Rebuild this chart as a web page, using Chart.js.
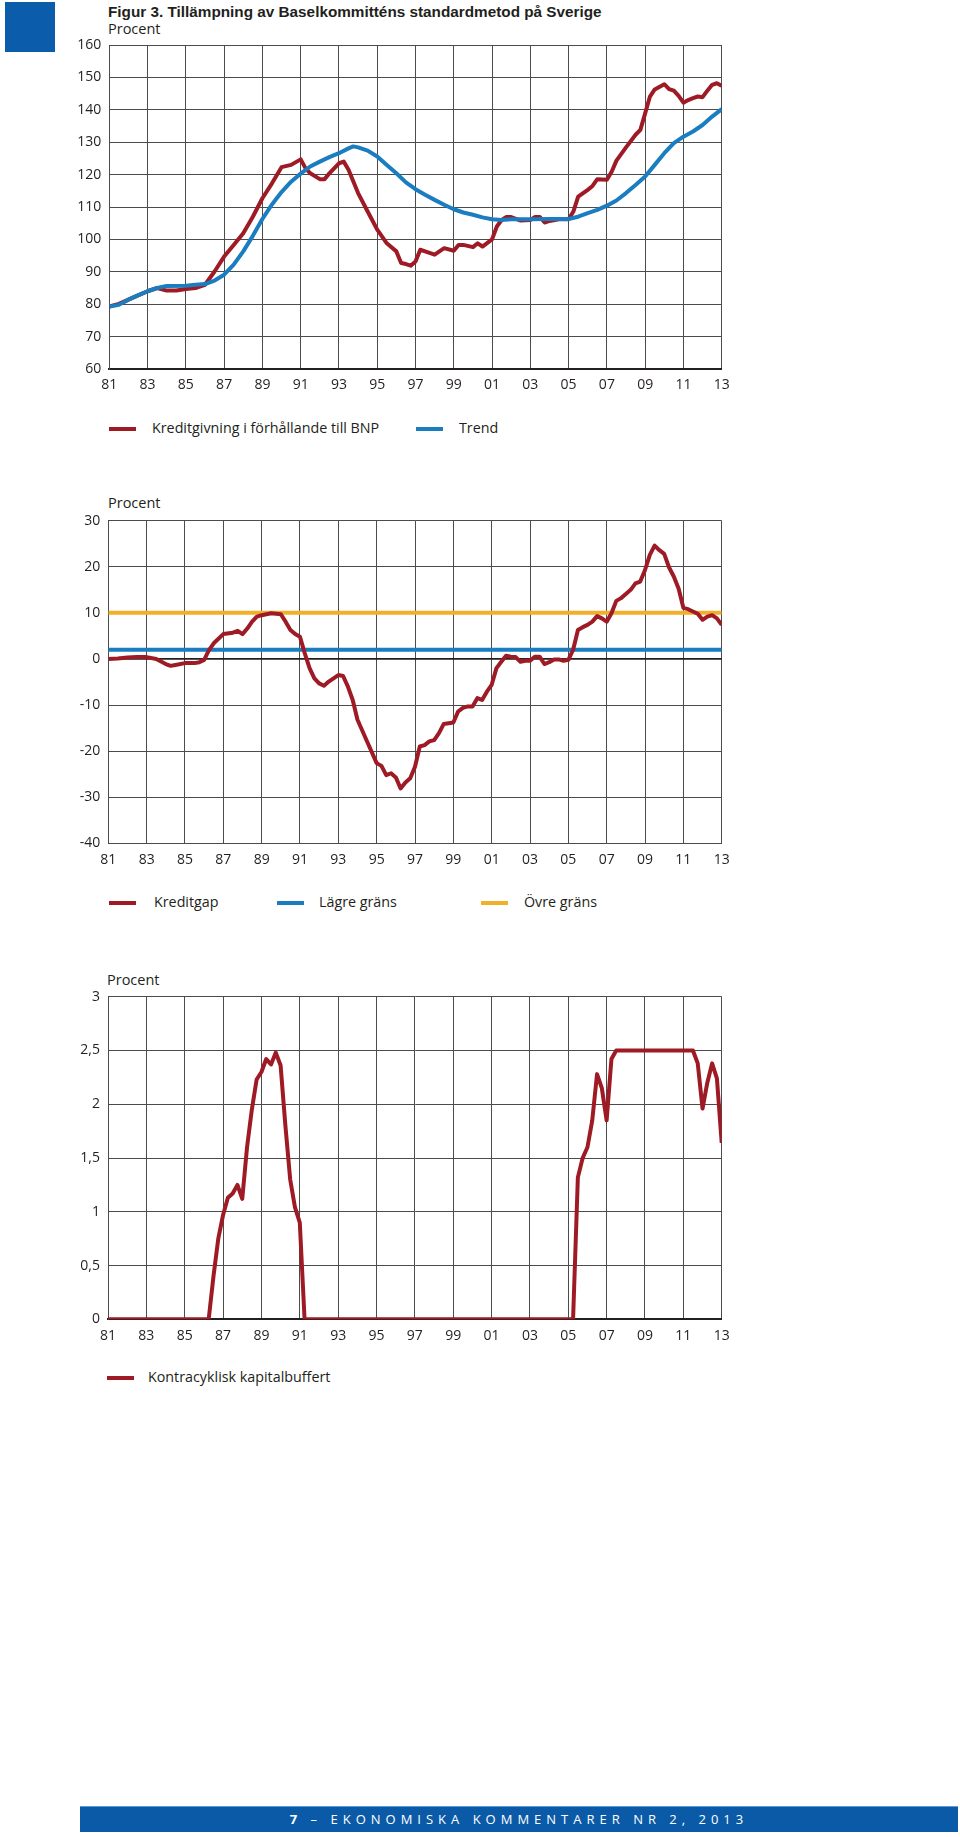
<!DOCTYPE html>
<html>
<head>
<meta charset="utf-8">
<script src="https://cdn.jsdelivr.net/npm/chart.js@4.4.1/dist/chart.umd.min.js"></script>
<style>
  html, body { margin: 0; padding: 0; background: #fff; }
  body { width: 960px; height: 1837px; position: relative; overflow: hidden; font-family: 'Open Sans', sans-serif; color: #231f20; }
  .abs { position: absolute; }
  .square { left: 5px; top: 2px; width: 50px; height: 50px; background: #0b5cab; }
  .title { left: 108px; top: 2px; font-family: 'Liberation Sans Narrow', sans-serif; font-weight: bold; font-size: 15.3px; line-height: 19px; white-space: nowrap; }
  .unit { font-size: 14.5px; line-height: 18px; white-space: nowrap; }
  .leg { font-size: 14.3px; line-height: 18px; white-space: nowrap; }
  .sw { height: 4px; width: 27px; }
  .footer { left: 80px; top: 1806px; width: 878px; height: 25px; background: #0b5aa7; border-top: 1px solid #5c9ad6; color: #fff; text-align: center; font-size: 13px; line-height: 25px; letter-spacing: 5px; white-space: nowrap; }
</style>
</head>
<body>
<div class="abs square"></div>
<div class="abs title">Figur 3. Tillämpning av Baselkommitténs standardmetod på Sverige</div>

<div class="abs unit" style="left:108px; top:20px;">Procent</div>
<div class="abs" id="box1"><canvas id="c1"></canvas></div>
<div class="abs sw" style="left:109px; top:427px; background:#9e1b25;"></div>
<div class="abs leg" style="left:152px; top:419px;">Kreditgivning i förhållande till BNP</div>
<div class="abs sw" style="left:416px; top:427px; background:#1a7dc0;"></div>
<div class="abs leg" style="left:459px; top:419px;">Trend</div>

<div class="abs unit" style="left:108px; top:494px;">Procent</div>
<div class="abs" id="box2"><canvas id="c2"></canvas></div>
<div class="abs sw" style="left:109px; top:901px; background:#9e1b25;"></div>
<div class="abs leg" style="left:154px; top:893px;">Kreditgap</div>
<div class="abs sw" style="left:277px; top:901px; background:#1a7dc0;"></div>
<div class="abs leg" style="left:319px; top:893px;">Lägre gräns</div>
<div class="abs sw" style="left:481px; top:901px; background:#f2b02a;"></div>
<div class="abs leg" style="left:524px; top:893px;">Övre gräns</div>

<div class="abs unit" style="left:107px; top:971px;">Procent</div>
<div class="abs" id="box3"><canvas id="c3"></canvas></div>
<div class="abs sw" style="left:107px; top:1376px; background:#9e1b25;"></div>
<div class="abs leg" style="left:148px; top:1368px;">Kontracyklisk kapitalbuffert</div>

<div class="abs footer"><b>7</b> – EKONOMISKA KOMMENTARER NR 2, 2013</div>

<script>
// ---------------- DATA ----------------
// X axis (years, ticks every second year)
const xMin = 1981;
const xMax = 2013;
const xStep = 2;

// Chart 1: Kreditgivning i förhållande till BNP (procent)
const creditYears = [1981,1981.5,1982,1982.5,1983,1983.5,1984,1984.5,1985,1985.5,
  1986,1986.5,1987,1987.5,1988,1988.5,1989,1989.5,1990,1990.5,
  1991,1991.25,1991.5,1992,1992.25,1992.5,1993,1993.25,1993.5,1994,
  1994.5,1995,1995.5,1996,1996.25,1996.5,1996.75,1997,1997.25,1997.5,
  1998,1998.5,1999,1999.25,1999.5,2000,2000.25,2000.5,2001,2001.25,
  2001.5,2001.75,2002,2002.5,2003,2003.25,2003.5,2003.75,2004,2004.5,
  2005,2005.25,2005.5,2006,2006.25,2006.5,2007,2007.25,2007.5,2008,
  2008.5,2008.75,2009,2009.25,2009.5,2010,2010.25,2010.5,2010.75,2011,
  2011.25,2011.5,2011.75,2012,2012.25,2012.5,2012.75,2013];
const creditRatio = [79.3,80.1,81.4,82.7,84,85,84.2,84.2,84.7,85,
  86,90.1,94.7,98.3,101.9,107,112.7,117.3,122.3,123,
  124.7,122,120.4,118.6,118.6,120.4,123.5,124,121.5,114.3,
  108.6,103,98.8,96.3,92.7,92.4,91.9,93.2,96.8,96.3,
  95.3,97.3,96.5,98.3,98.3,97.6,98.8,97.8,100,104,
  106,106.9,106.9,105.8,106,106.9,106.9,105.2,105.7,106.2,
  106.2,108.6,113.2,115.3,116.5,118.6,118.4,120.9,124.3,128.4,
  132.3,133.8,138.9,144.1,146.3,147.9,146.4,145.9,144.3,142.2,
  143,143.6,144.1,143.9,145.9,147.7,148.2,147.4];

// Chart 1: Trend
const trendYears = [1981,1981.5,1982,1982.5,1983,1983.5,1984,1985,1985.5,1986,
  1986.5,1987,1987.5,1988,1988.5,1989,1989.5,1990,1990.5,1991,
  1991.5,1992,1992.5,1993,1993.5,1993.75,1994,1994.5,1995,1995.5,
  1996,1996.5,1997,1997.5,1998,1998.5,1999,1999.5,2000,2000.5,
  2001,2001.5,2002,2003,2004,2005,2005.5,2006,2006.5,2007,
  2007.5,2008,2008.5,2009,2009.5,2010,2010.5,2011,2011.5,2012,
  2012.5,2013];
const trendValues = [79.3,79.8,81.4,82.7,84,85,85.6,85.7,86,86.2,
  87.3,89.1,92.2,96.3,101.1,106.3,110.8,114.6,117.8,120.3,
  122.5,124,125.4,126.6,128.1,128.7,128.4,127.4,125.6,123,
  120.4,117.6,115.5,113.8,112.2,110.7,109.3,108.3,107.6,106.8,
  106.2,106,106.2,106.2,106.3,106.3,107,108.1,109.1,110.4,
  112,114.3,116.8,119.4,123,126.6,129.7,131.7,133.3,135.3,
  137.9,140.2];

// Chart 2: Kreditgap (procentenheter)
const gapYears = [1981,1981.5,1982,1982.5,1983,1983.5,1984,1984.25,1984.5,1985,
  1985.5,1985.75,1986,1986.25,1986.5,1987,1987.5,1987.75,1988,1988.25,
  1988.5,1988.75,1989,1989.5,1990,1990.25,1990.5,1990.75,1991,1991.25,
  1991.5,1991.75,1992,1992.25,1992.5,1992.75,1993,1993.25,1993.5,1993.75,
  1994,1994.5,1995,1995.25,1995.5,1995.75,1996,1996.25,1996.5,1996.75,
  1997,1997.25,1997.5,1997.75,1998,1998.25,1998.5,1999,1999.25,1999.5,
  1999.75,2000,2000.25,2000.5,2000.75,2001,2001.25,2001.5,2001.75,2002,
  2002.25,2002.5,2002.75,2003,2003.25,2003.5,2003.75,2004,2004.25,2004.5,
  2004.75,2005,2005.25,2005.5,2005.75,2006,2006.25,2006.5,2006.75,2007,
  2007.25,2007.5,2007.75,2008,2008.25,2008.5,2008.75,2009,2009.25,2009.5,
  2009.75,2010,2010.25,2010.5,2010.75,2011,2011.25,2011.5,2011.75,2012,
  2012.25,2012.5,2012.75,2013];
const gapValues = [0,0.1,0.3,0.4,0.4,0,-1.1,-1.5,-1.3,-0.9,
  -0.9,-0.7,-0.2,1.9,3.4,5.4,5.7,6.1,5.4,6.6,
  8.1,9.2,9.5,9.9,9.7,8.1,6.3,5.4,4.8,1.2,
  -2,-4.2,-5.3,-5.8,-4.9,-4.2,-3.5,-3.7,-6,-8.9,
  -13.2,-17.9,-22.6,-23.2,-25.2,-24.8,-25.7,-28.1,-26.8,-25.9,
  -23.4,-19,-18.7,-17.9,-17.6,-16.1,-14.1,-13.8,-11.4,-10.6,
  -10.3,-10.3,-8.5,-8.9,-7.1,-5.6,-2,-0.6,0.7,0.5,
  0.4,-0.6,-0.4,-0.4,0.5,0.5,-1.1,-0.7,-0.1,-0.1,
  -0.4,-0.2,2,6.3,6.9,7.4,8.1,9.3,8.8,8.1,
  9.9,12.6,13.2,14.1,15,16.4,16.8,19.3,22.6,24.6,
  23.6,22.8,19.9,17.9,15.3,11.1,10.8,10.3,9.8,8.5,
  9.2,9.5,8.8,7.4];
const lowerLimit = 2;
const upperLimit = 10;

// Chart 3: Kontracyklisk kapitalbuffert (procent)
const bufferYears = [1981,1986.25,1986.5,1986.75,1987,1987.25,1987.5,1987.75,1988,1988.25,
  1988.5,1988.75,1989,1989.25,1989.5,1989.75,1990,1990.25,1990.5,1990.75,
  1991,1991.25,2005.25,2005.5,2005.75,2006,2006.25,2006.5,2006.75,2007,
  2007.25,2007.5,2011.5,2011.75,2012,2012.25,2012.5,2012.75,2013];
const bufferValues = [0,0,0.4,0.75,0.97,1.13,1.17,1.25,1.12,1.6,
  1.95,2.23,2.3,2.42,2.37,2.48,2.36,1.8,1.3,1.04,
  0.9,0,0,1.32,1.5,1.6,1.85,2.28,2.15,1.85,
  2.42,2.5,2.5,2.38,1.96,2.2,2.38,2.24,1.64];

// ---------------- STYLE / LAYOUT ----------------
const RED = '#9e1b25', BLUE = '#1a7dc0', YELLOW = '#f2b02a';
const GRID = '#4c4c4c', INK = '#231f20';
const tickFont = { family: 'Open Sans', size: 14 };

function pts(xs, ys) { return xs.map((x, i) => ({ x: x, y: ys[i] })); }
function flat(v) { return [{ x: xMin, y: v }, { x: xMax, y: v }]; }

function line(label, data, color, order) {
  return { label, data, borderColor: color, backgroundColor: color, borderWidth: 4,
    pointRadius: 0, pointHoverRadius: 0, tension: 0, fill: false,
    borderJoinStyle: 'round', borderCapStyle: 'butt', order: order };
}

function makeChart(canvasId, boxId, geom, y, datasets) {
  const box = document.getElementById(boxId);
  box.style.left = geom.left + 'px';
  box.style.top = geom.top + 'px';
  box.style.width = geom.width + 'px';
  box.style.height = geom.height + 'px';
  return new Chart(document.getElementById(canvasId), {
    type: 'line',
    data: { datasets },
    options: {
      responsive: true, maintainAspectRatio: false, animation: false,
      devicePixelRatio: 1,
      layout: { padding: { left: 0, top: geom.plotTop - geom.top, right: geom.left + geom.width - geom.plotRight, bottom: 0 } },
      plugins: { legend: { display: false }, tooltip: { enabled: false } },
      scales: {
        x: {
          type: 'linear', min: xMin, max: xMax,
          ticks: { stepSize: xStep, autoSkip: false, maxRotation: 0, padding: 8, color: INK, font: tickFont,
            callback: v => String(v).slice(2) },
          grid: { color: GRID, lineWidth: 1, drawTicks: false },
          border: { display: true, color: geom.bottomColor, width: geom.bottomWidth },
          afterFit: s => { s.height = geom.top + geom.height - geom.plotBottom; }
        },
        y: {
          min: y.min, max: y.max,
          ticks: { stepSize: y.step, padding: 8, color: INK, font: tickFont,
            callback: v => String(v).replace('.', ',') },
          grid: { color: y.gridColor || GRID, lineWidth: y.gridWidth || 1, drawTicks: false },
          border: { display: true, color: GRID, width: 1 },
          afterFit: s => { s.width = geom.plotLeft - geom.left; }
        }
      }
    }
  });
}

function drawAll() {
  // Chart 1
  makeChart('c1', 'box1',
    { left: 40, top: 25, width: 720, height: 380, plotLeft: 109.3, plotRight: 721.7, plotTop: 45, plotBottom: 369, bottomColor: INK, bottomWidth: 2 },
    { min: 60, max: 160, step: 10 },
    [ line('Kreditgivning i förhållande till BNP', pts(creditYears, creditRatio), RED, 1),
      line('Trend', pts(trendYears, trendValues), BLUE, 0) ]);

  // Chart 2
  makeChart('c2', 'box2',
    { left: 40, top: 500, width: 720, height: 379.3, plotLeft: 108.3, plotRight: 721.7, plotTop: 520.7, plotBottom: 843.3, bottomColor: GRID, bottomWidth: 1 },
    { min: -40, max: 30, step: 10,
      gridColor: ctx => (ctx.tick && ctx.tick.value === 0) ? INK : GRID,
      gridWidth: ctx => (ctx.tick && ctx.tick.value === 0) ? 1.8 : 1 },
    [ line('Kreditgap', pts(gapYears, gapValues), RED, 0),
      line('Lägre gräns', flat(lowerLimit), BLUE, 1),
      line('Övre gräns', flat(upperLimit), YELLOW, 2) ]);

  // Chart 3
  makeChart('c3', 'box3',
    { left: 40, top: 976, width: 720, height: 379.3, plotLeft: 108, plotRight: 721.7, plotTop: 996.7, plotBottom: 1319.3, bottomColor: INK, bottomWidth: 2 },
    { min: 0, max: 3, step: 0.5 },
    [ line('Kontracyklisk kapitalbuffert', pts(bufferYears, bufferValues), RED, 0) ]);
}

if (document.fonts && document.fonts.load) {
  document.fonts.load('14px "Open Sans"').then(drawAll, drawAll);
} else {
  drawAll();
}
</script>
</body>
</html>
